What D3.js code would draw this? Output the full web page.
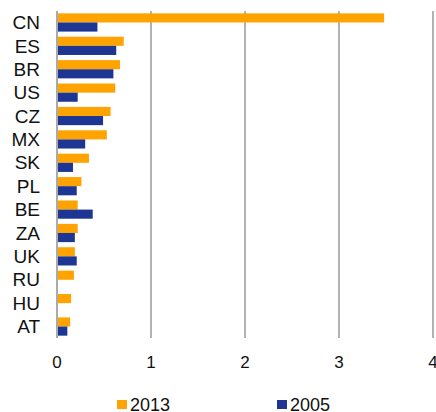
<!DOCTYPE html>
<html>
<head>
<meta charset="utf-8">
<script src="https://cdn.jsdelivr.net/npm/d3@7"></script>
<style>
  body { margin: 0; background: #fff; }
  text { font-family: "Liberation Sans", Arial, sans-serif; fill: #111; }
</style>
</head>
<body>
<svg id="chart"></svg>
<script>
var countries = ["CN","ES","BR","US","CZ","MX","SK","PL","BE","ZA","UK","RU","HU","AT"];
var series = ["2013","2005"];
var vals2013 = [3.48,0.71,0.67,0.62,0.57,0.53,0.34,0.26,0.22,0.22,0.19,0.18,0.15,0.14];
var vals2005 = [0.43,0.63,0.60,0.22,0.49,0.30,0.17,0.21,0.38,0.19,0.21,0,0.01,0.11];
var xTicks = [0,1,2,3,4];
var colors = {"2013":"#ffa300","2005":"#1d3694"};

var screen = {width:436, height:412};
var svg = d3.select("#chart").attr("width", screen.width).attr("height", screen.height);

var xScale = d3.scaleLinear().domain([0,4]).range([57, 433]);
var yScale = d3.scaleBand().domain(countries).range([11, 338])
    .paddingInner(0.22).paddingOuter(0.1);
var subScale = d3.scaleBand().domain(series).range([0, yScale.bandwidth()]);

// grid lines
svg.append("g").selectAll("line")
  .data(xTicks.slice(1))
  .enter().append("line")
  .attr("x1", function(d){return xScale(d);})
  .attr("x2", function(d){return xScale(d);})
  .attr("y1", 11).attr("y2", 338)
  .attr("stroke", "#999").attr("stroke-width", 1.5);

var rows = countries.map(function(c, i){
  return {c:c, v:{"2013":vals2013[i], "2005":vals2005[i]}};
});

var groups = svg.append("g").selectAll("g")
  .data(rows).enter().append("g")
  .attr("transform", function(d){return "translate(0," + yScale(d.c) + ")";});

groups.selectAll("rect")
  .data(function(d){return series.map(function(s){return {s:s, v:d.v[s]};});})
  .enter().append("rect")
  .attr("x", xScale(0))
  .attr("y", function(d){return subScale(d.s);})
  .attr("width", function(d){return xScale(d.v) - xScale(0);})
  .attr("height", subScale.bandwidth())
  .attr("fill", function(d){return colors[d.s];});

// zero axis
svg.append("line")
  .attr("x1", xScale(0)).attr("x2", xScale(0))
  .attr("y1", 11).attr("y2", 338)
  .attr("stroke", "#aaa").attr("stroke-width", 2);

// category labels
svg.append("g").selectAll("text")
  .data(countries).enter().append("text")
  .attr("x", 40)
  .attr("y", function(d){return yScale(d) + yScale.bandwidth()/2;})
  .attr("dy", "0.35em")
  .attr("text-anchor", "end")
  .style("font-size", "19px")
  .text(function(d){return d;});

// x tick labels
svg.append("g").selectAll("text")
  .data(xTicks).enter().append("text")
  .attr("x", function(d){return xScale(d);})
  .attr("y", 368)
  .attr("text-anchor", "middle")
  .style("font-size", "17px")
  .text(function(d){return d;});

// legend
var legendX = {"2013":117, "2005":277};
var leg = svg.append("g").selectAll("g")
  .data(series).enter().append("g")
  .attr("transform", function(d){return "translate(" + legendX[d] + ",0)";});
leg.append("rect").attr("x",0).attr("y",400).attr("width",10).attr("height",9)
  .attr("fill", function(d){return colors[d];});
leg.append("text").attr("x",13).attr("y",411)
  .style("font-size","18px")
  .text(function(d){return d;});
</script>
</body>
</html>
